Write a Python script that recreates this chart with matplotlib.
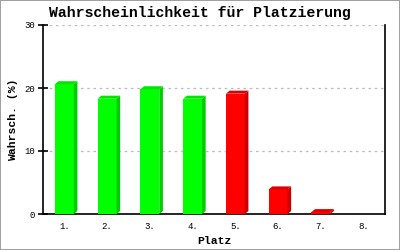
import matplotlib
matplotlib.use('Agg')
import matplotlib.pyplot as plt

# Wahrscheinlichkeit je Platz (in %)
places = ['1.', '2.', '3.', '4.', '5.', '6.', '7.', '8.']
probs = [20.6, 18.3, 19.8, 18.3, 19.1, 3.9, 0.3, 0.0]
n_green = 4  # first four places drawn green, rest red

front = {'g': '#00ff00', 'r': '#ff0000'}
top = {'g': '#00e600', 'r': '#e00000'}
side = {'g': '#00cc00', 'r': '#cc0000'}

font = 'Liberation Mono'

fig = plt.figure(figsize=(4, 2.5), dpi=100)
fig.patch.set_edgecolor('#a0a0a0')
fig.patch.set_linewidth(1.2)
ax = fig.add_axes([43 / 400, 36 / 250, 342 / 400, 189 / 250])

w = 0.44
dx = 0.085
dy = 0.48
for i, p in enumerate(probs):
    if p <= 0:
        continue
    k = 'g' if i < n_green else 'r'
    x0, x1 = i - w / 2, i + w / 2
    ax.bar(i, p, width=w, color=front[k], zorder=3, linewidth=0)
    ax.fill([x1, x1, x1 + dx, x1 + dx], [0, p, p + dy, dy],
            color=side[k], zorder=3, linewidth=0)
    ax.fill([x0, x0 + dx, x1 + dx, x1], [p, p + dy, p + dy, p],
            color=top[k], zorder=3, linewidth=0)

ax.set_xlim(-0.5, len(places) - 0.5)
ax.set_ylim(0, 30)
ax.set_yticks([0, 10, 20, 30])
ax.set_xticks(range(len(places)))
ax.set_xticklabels(places)
ax.yaxis.grid(True, color='#bbbbbb', linestyle=(0, (2, 3)), linewidth=0.9)
ax.set_axisbelow(True)

ax.spines['top'].set_visible(False)
for s in ['left', 'bottom', 'right']:
    ax.spines[s].set_linewidth(1.2)
ax.tick_params(axis='y', direction='inout', length=7, width=1.2, pad=2)
ax.tick_params(axis='x', length=0, pad=6)
for lab in ax.get_xticklabels() + ax.get_yticklabels():
    lab.set_fontfamily(font)
    lab.set_fontsize(6.5)

fig.text(0.5, 1 - 13 / 250, 'Wahrscheinlichkeit für Platzierung', fontfamily=font,
         fontsize=10.7, fontweight='bold', ha='center', va='center')
ax.set_xlabel('Platz', fontfamily=font, fontsize=8.2, fontweight='bold', labelpad=3)
ax.set_ylabel('Wahrsch. (%)', fontfamily=font, fontsize=8.2, fontweight='bold', labelpad=5)

fig.savefig('out.png', dpi=100, edgecolor=fig.get_edgecolor())
